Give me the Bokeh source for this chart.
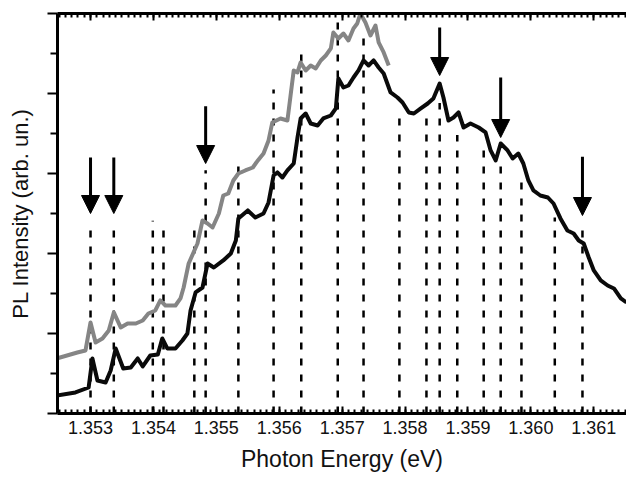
from bokeh.plotting import figure
from bokeh.models import (Range1d, LinearAxis, FixedTicker, NumeralTickFormatter,
                          CustomJSTickFormatter, ColumnDataSource, Arrow, NormalHead)
from bokeh.embed import file_html
from bokeh.resources import INLINE

# ---- data -------------------------------------------------------------
# PL spectrum, lower (black) trace
black_energy = [1.35246, 1.35276, 1.35297, 1.35303, 1.35311, 1.35324, 1.35332, 1.35340,
                1.35352, 1.35364, 1.35375, 1.35383, 1.35395, 1.35407, 1.35414, 1.35422,
                1.35435, 1.35446, 1.35454, 1.35459, 1.35467, 1.35478, 1.35486, 1.35496,
                1.35511, 1.35523, 1.35531, 1.35535, 1.35550, 1.35562, 1.35575, 1.35583,
                1.35591, 1.35597, 1.35605, 1.35613, 1.35623, 1.35629, 1.35634, 1.35642,
                1.35650, 1.35661, 1.35670, 1.35682, 1.35690, 1.35694, 1.35702, 1.35710,
                1.35718, 1.35726, 1.35734, 1.35742, 1.35750, 1.35758, 1.35766, 1.35777,
                1.35788, 1.35796, 1.35806, 1.35814, 1.35825, 1.35836, 1.35845, 1.35855,
                1.35861, 1.35869, 1.35877, 1.35885, 1.35893, 1.35904, 1.35917, 1.35928,
                1.35936, 1.35944, 1.35952, 1.35963, 1.35971, 1.35980, 1.35988, 1.35996,
                1.36004, 1.36015, 1.36027, 1.36036, 1.36047, 1.36058, 1.36068, 1.36076,
                1.36084, 1.36092, 1.36100, 1.36111, 1.36122, 1.36132, 1.36143, 1.36152]
black_intensity = [0.225, 0.263, 0.325, 0.688, 0.413, 0.388, 0.538, 0.813,
                   0.563, 0.575, 0.688, 0.588, 0.725, 0.738, 0.938, 0.813,
                   0.813, 0.913, 1.0, 1.288, 1.513, 1.575, 1.875, 1.825,
                   1.913, 2.0, 2.163, 2.438, 2.538, 2.45, 2.5, 2.638,
                   2.975, 3.013, 2.95, 3.038, 3.125, 3.45, 3.688, 3.75,
                   3.625, 3.6, 3.688, 3.725, 3.813, 4.188, 4.075, 4.1,
                   4.2, 4.288, 4.413, 4.35, 4.413, 4.325, 4.25, 4.013,
                   3.95, 3.888, 3.763, 3.75, 3.813, 3.875, 3.938, 4.125,
                   3.95, 3.663, 3.7, 3.763, 3.575, 3.625, 3.575, 3.513,
                   3.288, 3.163, 3.375, 3.288, 3.188, 3.25, 3.125, 2.913,
                   2.788, 2.725, 2.7, 2.625, 2.438, 2.288, 2.25, 2.163,
                   2.125, 1.95, 1.788, 1.663, 1.6, 1.563, 1.438, 1.388]

# PL spectrum, upper (gray) trace
gray_energy = [1.35246, 1.35279, 1.35292, 1.35300, 1.35308, 1.35319, 1.35329, 1.35337,
               1.35348, 1.35359, 1.35372, 1.35383, 1.35392, 1.35403, 1.35411, 1.35419,
               1.35435, 1.35443, 1.35448, 1.35456, 1.35470, 1.35478, 1.35486, 1.35494,
               1.35504, 1.35511, 1.35519, 1.35527, 1.35535, 1.35546, 1.35558, 1.35566,
               1.35575, 1.35583, 1.35589, 1.35602, 1.35613, 1.35618, 1.35623, 1.35629,
               1.35634, 1.35642, 1.35650, 1.35658, 1.35666, 1.35674, 1.35682, 1.35686,
               1.35694, 1.35702, 1.35710, 1.35718, 1.35724, 1.35729, 1.35737, 1.35745,
               1.35753, 1.35758, 1.35766, 1.35774]
gray_intensity = [0.688, 0.763, 0.788, 1.138, 0.888, 0.938, 1.038, 1.263,
                  1.075, 1.125, 1.125, 1.163, 1.25, 1.288, 1.413, 1.35,
                  1.35, 1.438, 1.575, 1.875, 2.125, 2.413, 2.375, 2.325,
                  2.5, 2.725, 2.75, 2.913, 3.0, 3.038, 3.075, 3.163,
                  3.25, 3.413, 3.638, 3.688, 3.663, 3.975, 4.288, 4.263,
                  4.388, 4.288, 4.35, 4.313, 4.413, 4.475, 4.563, 4.763,
                  4.688, 4.75, 4.663, 4.813, 4.875, 5.0, 4.888, 4.725,
                  4.85, 4.638, 4.513, 4.35]

# vertical dashed markers: energy and upper end
line_energy = [1.35300, 1.35337, 1.35399, 1.35416, 1.35465, 1.35483, 1.35535, 1.35591,
               1.35635, 1.35693, 1.35734, 1.35791, 1.35834, 1.35855, 1.35883, 1.35925,
               1.35952, 1.35985, 1.36038, 1.36082]
line_top = [2.35, 2.35, 2.41, 2.38, 2.33, 3.04, 3.2, 4.05,
            4.51, 4.93, 4.8, 3.69, 3.69, 3.88, 3.48, 3.33,
            3.2, 2.89, 2.45, 2.35]

# arrows marking selected lines
arrow_energy = [1.35300, 1.35337, 1.35483, 1.35855, 1.35952, 1.36082]
arrow_start = [3.2, 3.2, 3.84, 4.825, 4.2, 3.21]
arrow_end = [2.5, 2.5, 3.125, 4.225, 3.45, 2.475]

# axes
x_ticks = [1.353, 1.354, 1.355, 1.356, 1.357, 1.358, 1.359, 1.360, 1.361]
x_minor = [round(1.3525 + 0.0001 * i, 4) for i in range(91)]
y_ticks = [0, 1, 2, 3, 4, 5]
y_minor = [0.5, 1.5, 2.5, 3.5, 4.5]

FONT = "Liberation Sans"
BLANK = CustomJSTickFormatter(code="return ''")

# ---- figure -------------------------------------------------------------
p = figure(width=626, height=477, output_backend="svg", toolbar_location=None,
           x_range=Range1d(1.352475, 1.36152), y_range=Range1d(0, 5),
           min_border_left=57, min_border_right=0, min_border_top=13,
           min_border_bottom=64, background_fill_color="white",
           border_fill_color="white")
p.outline_line_color = None
p.xgrid.visible = False
p.ygrid.visible = False

# dashed marker lines
dash_src = ColumnDataSource(dict(x=line_energy, y0=[0] * len(line_energy), y1=line_top))
p.segment(x0="x", y0="y0", x1="x", y1="y1", source=dash_src,
          line_color="black", line_width=2.5, line_dash="7 9")

# spectra
p.line(gray_energy, gray_intensity, line_color="#858585", line_width=4,
       line_join="round")
p.line(black_energy, black_intensity, line_color="#0a0a0a", line_width=4,
       line_join="round")

# arrows
arrow_src = ColumnDataSource(dict(x=arrow_energy, ys=arrow_start, ye=arrow_end))
p.add_layout(Arrow(x_start="x", y_start="ys", x_end="x", y_end="ye",
                   source=arrow_src, line_color="black", line_width=3,
                   end=NormalHead(size=18, fill_color="black", line_color="black",
                                  line_width=1)))

# bottom axis
xa = p.xaxis[0]
xa.ticker = FixedTicker(ticks=x_ticks, minor_ticks=x_minor)
xa.formatter = NumeralTickFormatter(format="0.000")
xa.axis_line_width = 3
xa.major_tick_in = 7
xa.major_tick_out = 0
xa.minor_tick_in = 4
xa.minor_tick_out = 0
xa.major_tick_line_width = 2
xa.minor_tick_line_width = 2
xa.major_label_standoff = 7
xa.major_label_text_font = FONT
xa.major_label_text_font_size = "18px"
xa.major_label_text_color = "#111111"
xa.axis_label = "Photon Energy (eV)"
xa.axis_label_text_font = FONT
xa.axis_label_text_font_size = "23px"
xa.axis_label_text_font_style = "normal"
xa.axis_label_text_color = "#111111"
xa.axis_label_standoff = 9

# top axis (ticks only)
top = LinearAxis(ticker=FixedTicker(ticks=x_ticks, minor_ticks=x_minor),
                 formatter=BLANK)
top.axis_line_width = 3
top.major_tick_in = 7
top.major_tick_out = 0
top.minor_tick_in = 4
top.minor_tick_out = 0
top.major_tick_line_width = 2
top.minor_tick_line_width = 2
top.major_label_standoff = 0
p.add_layout(top, "above")

# left axis (ticks only, no numbers)
ya = p.yaxis[0]
ya.ticker = FixedTicker(ticks=y_ticks, minor_ticks=y_minor)
ya.formatter = BLANK
ya.axis_line_width = 3
ya.major_tick_in = 0
ya.major_tick_out = 10
ya.minor_tick_in = 0
ya.minor_tick_out = 7
ya.major_tick_line_width = 2
ya.minor_tick_line_width = 2
ya.major_label_standoff = 0
ya.axis_label = "PL Intensity (arb. un.)"
ya.axis_label_text_font = FONT
ya.axis_label_text_font_size = "22px"
ya.axis_label_text_font_style = "normal"
ya.axis_label_text_color = "#111111"
ya.axis_label_standoff = 15

open("out.html", "w").write(file_html(p, INLINE))
